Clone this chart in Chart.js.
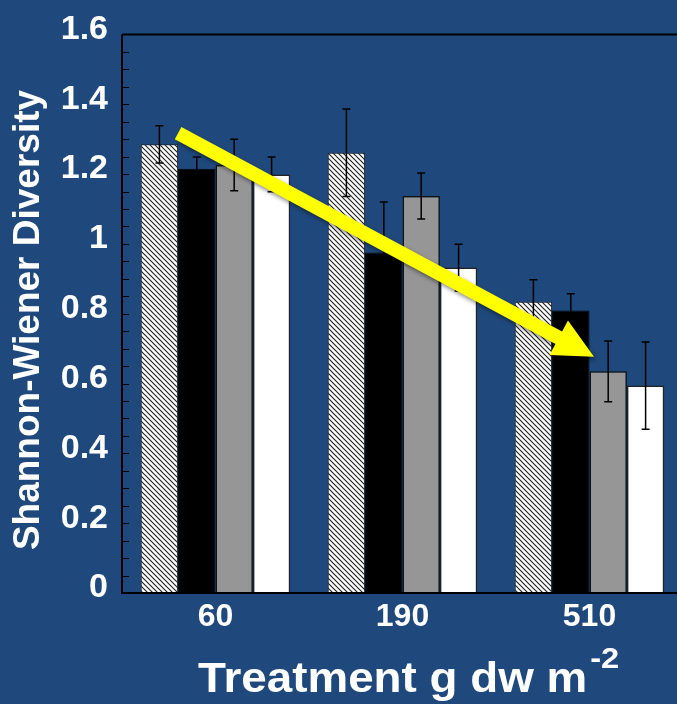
<!DOCTYPE html>
<html>
<head>
<meta charset="utf-8">
<script src="https://cdn.jsdelivr.net/npm/chart.js@4/dist/chart.umd.min.js"></script>
<style>
  html, body { margin: 0; padding: 0; background: #1F497D; overflow: hidden; }
  #wrap { width: 700px; height: 704px; }
</style>
</head>
<body>
<div id="wrap"><canvas id="c" width="700" height="704"></canvas></div>
<script>
// Treatments (biomass added, g dw m^-2)
const treatments = ['60', '190', '510'];

// Shannon-Wiener diversity means and standard errors for the four series
const hatchedMeans = [1.285, 1.261, 0.834];
const hatchedErrs  = [0.053, 0.125, 0.063];
const blackMeans   = [1.215, 0.975, 0.809];
const blackErrs    = [0.034, 0.145, 0.048];
const grayMeans    = [1.226, 1.137, 0.635];
const grayErrs     = [0.074, 0.066, 0.087];
const whiteMeans   = [1.199, 0.932, 0.594];
const whiteErrs    = [0.050, 0.067, 0.125];

// Y axis tick values and their labels
const yTickValues = [0, 0.2, 0.4, 0.6, 0.8, 1.0, 1.2, 1.4, 1.6];
const yTickLabels = ['0', '0.2', '0.4', '0.6', '0.8', '1', '1.2', '1.4', '1.6'];

// Trend arrow, in data units (category index, diversity)
const trendFrom = [-0.2, 1.317];
const trendTo   = [2.024, 0.677];

const FONT = '"Liberation Sans", Arial, sans-serif';

// Diagonal hatch fill
function makeHatch() {
  const t = document.createElement('canvas');
  t.width = 5; t.height = 5;
  const g = t.getContext('2d');
  g.fillStyle = '#ffffff';
  g.fillRect(0, 0, 5, 5);
  g.strokeStyle = '#222';
  g.lineWidth = 1.15;
  g.beginPath();
  g.moveTo(-1, -1); g.lineTo(6, 6);
  g.moveTo(4, -1); g.lineTo(6, 1);
  g.moveTo(-1, 4); g.lineTo(1, 6);
  g.stroke();
  return g.createPattern(t, 'repeat');
}

const overlay = {
  id: 'overlay',
  afterDatasetsDraw(chart) {
    const ctx = chart.ctx;
    const ys = chart.scales.y;
    const area = chart.chartArea;

    // error bars
    ctx.save();
    ctx.strokeStyle = '#000';
    ctx.lineWidth = 1.5;
    chart.data.datasets.forEach((ds, i) => {
      const meta = chart.getDatasetMeta(i);
      meta.data.forEach((bar, j) => {
        const v = ds.data[j], e = ds.errors[j];
        const yt = ys.getPixelForValue(v + e);
        const yb = ys.getPixelForValue(v - e);
        const x = bar.x;
        ctx.beginPath();
        ctx.moveTo(x, yt); ctx.lineTo(x, yb);
        ctx.moveTo(x - 4, yt); ctx.lineTo(x + 4, yt);
        ctx.moveTo(x - 4, yb); ctx.lineTo(x + 4, yb);
        ctx.stroke();
      });
    });
    ctx.restore();

    // axis frame: left, bottom, top
    ctx.save();
    ctx.strokeStyle = '#000';
    ctx.lineWidth = 2;
    ctx.beginPath();
    ctx.moveTo(area.left, area.top);
    ctx.lineTo(area.left, area.bottom);
    ctx.lineTo(chart.width, area.bottom);
    ctx.moveTo(area.left, area.top);
    ctx.lineTo(chart.width, area.top);
    ctx.stroke();

    // inward tick marks every 0.05
    ctx.lineWidth = 1.2;
    ctx.beginPath();
    for (let k = 0; k <= 32; k++) {
      const py = Math.round(ys.getPixelForValue(k * 0.05)) + 0.5;
      ctx.moveTo(area.left, py);
      ctx.lineTo(area.left + 7, py);
    }
    ctx.stroke();
    ctx.restore();
  },
  afterDraw(chart) {
    const ctx = chart.ctx;
    const xs = chart.scales.x, ys = chart.scales.y;

    // trend arrow
    const x0 = xs.getPixelForValue(trendFrom[0]), y0 = ys.getPixelForValue(trendFrom[1]);
    const x1 = xs.getPixelForValue(trendTo[0]),   y1 = ys.getPixelForValue(trendTo[1]);
    const len = Math.hypot(x1 - x0, y1 - y0);
    const ux = (x1 - x0) / len, uy = (y1 - y0) / len;
    const nx = -uy, ny = ux;
    const shaft = 7, headHalf = 19.5, headLen = 40;
    const bx = x1 - ux * headLen, by = y1 - uy * headLen;
    ctx.save();
    ctx.shadowColor = 'rgba(0,0,0,0.45)';
    ctx.shadowBlur = 4;
    ctx.shadowOffsetX = 2;
    ctx.shadowOffsetY = 3;
    ctx.fillStyle = '#FFFF00';
    ctx.beginPath();
    ctx.moveTo(x0 + nx * shaft, y0 + ny * shaft);
    ctx.lineTo(bx + nx * shaft, by + ny * shaft);
    ctx.lineTo(bx + nx * headHalf, by + ny * headHalf);
    ctx.lineTo(x1, y1);
    ctx.lineTo(bx - nx * headHalf, by - ny * headHalf);
    ctx.lineTo(bx - nx * shaft, by - ny * shaft);
    ctx.lineTo(x0 - nx * shaft, y0 - ny * shaft);
    ctx.closePath();
    ctx.fill();
    ctx.restore();

    // axis titles
    ctx.save();
    ctx.fillStyle = '#ffffff';
    ctx.font = 'bold 37px ' + FONT;
    ctx.textAlign = 'center';
    ctx.textBaseline = 'middle';
    ctx.translate(29, 320);
    ctx.rotate(-Math.PI / 2);
    ctx.fillText('Shannon-Wiener Diversity', 0, 0);
    ctx.restore();

    ctx.save();
    ctx.fillStyle = '#ffffff';
    ctx.textAlign = 'left';
    ctx.textBaseline = 'alphabetic';
    ctx.font = 'bold 42px ' + FONT;
    const main = 'Treatment g dw m';
    const w = ctx.measureText(main).width * 1.09;
    ctx.save();
    ctx.translate(198, 692);
    ctx.scale(1.09, 1);
    ctx.fillText(main, 0, 0);
    ctx.restore();
    ctx.font = 'bold 30px ' + FONT;
    ctx.translate(198 + w + 3, 668);
    ctx.scale(1.09, 1);
    ctx.fillText('-2', 0, 0);
    ctx.restore();
  }
};

const ctx = document.getElementById('c').getContext('2d');
const hatch = makeHatch();

new Chart(ctx, {
  type: 'bar',
  data: {
    labels: treatments,
    datasets: [
      { label: 'Series 1', data: hatchedMeans, errors: hatchedErrs, backgroundColor: hatch, borderColor: '#222', borderWidth: 1 },
      { label: 'Series 2', data: blackMeans, errors: blackErrs, backgroundColor: '#000000', borderColor: '#000', borderWidth: 1 },
      { label: 'Series 3', data: grayMeans, errors: grayErrs, backgroundColor: '#969696', borderColor: '#111', borderWidth: 1.5 },
      { label: 'Series 4', data: whiteMeans, errors: whiteErrs, backgroundColor: '#ffffff', borderColor: '#222', borderWidth: 1.5 }
    ]
  },
  options: {
    responsive: false,
    animation: false,
    layout: { padding: { top: 33, right: 17, bottom: 0, left: 0 } },
    plugins: { legend: { display: false }, tooltip: { enabled: false } },
    datasets: { bar: { categoryPercentage: 0.8, barPercentage: 1.0 } },
    scales: {
      x: {
        grid: { display: false, drawTicks: false },
        border: { display: false },
        ticks: { color: '#ffffff', font: { family: FONT, size: 32, weight: 'bold' }, padding: 5, maxRotation: 0 },
        afterFit(s) { s.height = 111; }
      },
      y: {
        min: 0,
        max: 1.6,
        grid: { display: false, drawTicks: false },
        border: { display: false },
        afterBuildTicks(s) { s.ticks = yTickValues.map(v => ({ value: v })); },
        ticks: {
          color: '#ffffff',
          font: { family: FONT, size: 34, weight: 'bold' },
          padding: 14,
          labelOffset: -5,
          callback: (v, i) => yTickLabels[i]
        },
        afterFit(s) { s.width = 122; }
      }
    }
  },
  plugins: [overlay]
});
</script>
</body>
</html>
